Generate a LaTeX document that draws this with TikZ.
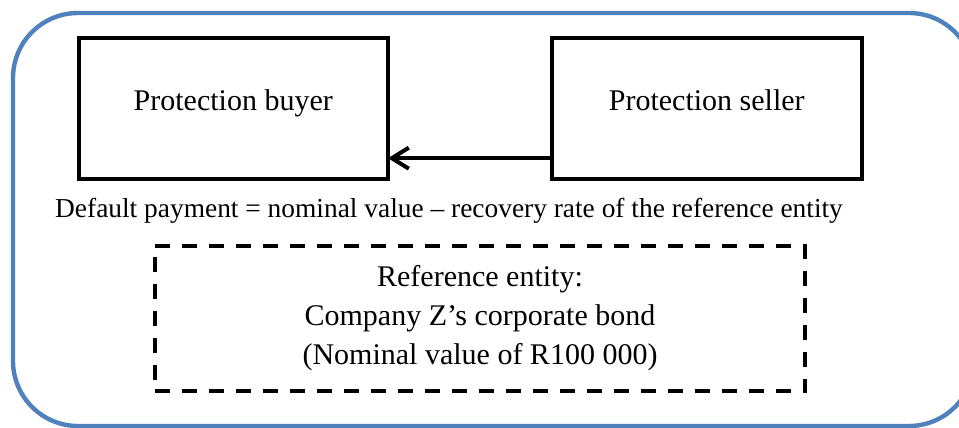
\documentclass[tikz,border=0pt]{standalone}
\usepackage{fontspec}
\setmainfont{Liberation Serif}
\usetikzlibrary{arrows.meta,positioning}
\definecolor{frameblue}{RGB}{79,129,189}

\begin{document}
\begin{tikzpicture}[x=0.5pt, y=0.5pt, >={Straight Barb[length=8.5pt,width=10.5pt]},
  party/.style={draw, line width=2pt, outer sep=0pt, minimum width=154.75pt, minimum height=70.5pt,
    font=\fontsize{15}{18}\selectfont, text height=0.68em, text depth=0.5em},
  refbox/.style={draw, line width=2pt, dash pattern=on 7.5pt off 6pt, outer sep=0pt,
    minimum width=325.3pt, minimum height=72.7pt, align=center,
    font=\fontsize{15}{19.5}\selectfont},
  pay/.style={->, line width=2pt}]
\useasboundingbox (0,0) rectangle (959,428);
% outer frame, cut off at the right and bottom edges
\draw[frameblue, line width=2.2pt, rounded corners=32.5pt] (13,2) rectangle (974,415);
\node[party] (buyer) at (233.25,319.3) {Protection buyer};
\node[party] (seller) at (706.75,319.3) {Protection seller};
\draw[pay] ([yshift=10.5pt]seller.south west) -- ([yshift=10.5pt]buyer.south east);
\node[anchor=base, font=\fontsize{13.7}{16}\selectfont] (payment) at (449,210)
  {Default payment = nominal value -- recovery rate of the reference entity};
\node[refbox] (ref) at (480,109.7)
  {Reference entity:\\Company Z’s corporate bond\\(Nominal value of R100 000)};
\end{tikzpicture}
\end{document}
